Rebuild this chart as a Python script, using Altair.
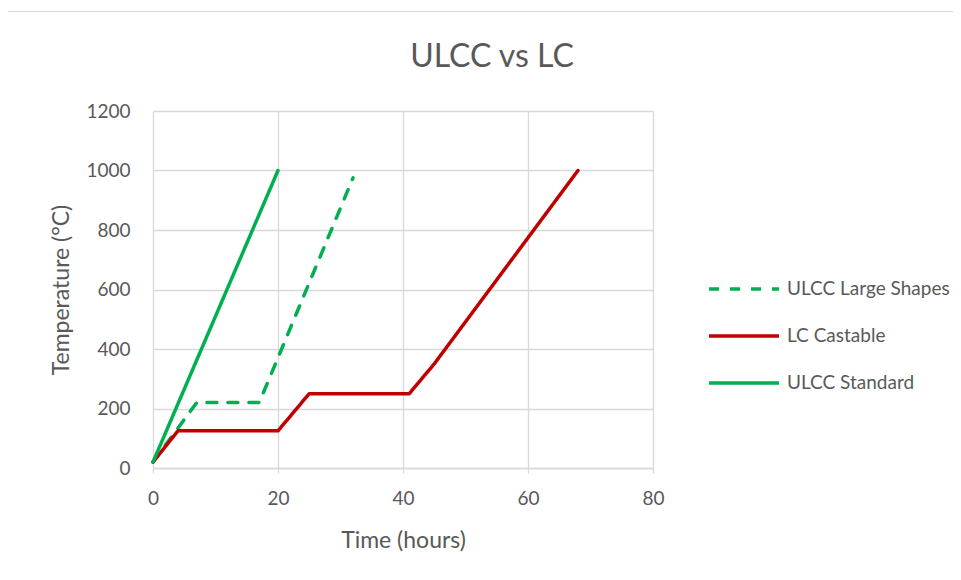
import altair as alt
import pandas as pd

series_names = ["ULCC Large Shapes", "LC Castable", "ULCC Standard"]

large_x = [0, 7, 17, 32]
large_y = [20, 220, 220, 975]

lc_x = [0, 4, 20, 25, 41, 45, 68]
lc_y = [20, 125, 125, 250, 250, 350, 1000]

std_x = [0, 20]
std_y = [20, 1000]

x_ticks = [0, 20, 40, 60, 80]
y_ticks = [0, 200, 400, 600, 800, 1000, 1200]

rows = []
for name, xs, ys in [(series_names[0], large_x, large_y),
                     (series_names[1], lc_x, lc_y),
                     (series_names[2], std_x, std_y)]:
    for i, (x, y) in enumerate(zip(xs, ys)):
        rows.append({"series": name, "time": x, "temp": y, "order": i})
df = pd.DataFrame(rows)

FONT = "Lato"
GREY = "#595959"
GRID = "#D9D9D9"

legend_kw = dict(title=None, orient="none", legendX=554, legendY=141,
                 symbolType="stroke", symbolSize=4900, symbolStrokeWidth=3.5,
                 labelFontSize=19, labelColor=GREY, labelFont=FONT, labelLimit=400,
                 rowPadding=-34, labelOffset=6)

lines = alt.Chart(df).mark_line(strokeWidth=3.5, strokeCap="round", strokeJoin="round").encode(
    x=alt.X("time:Q", scale=alt.Scale(domain=[0, 80], nice=False),
            axis=alt.Axis(values=x_ticks, title="Time (hours)", titlePadding=21,
                          labelPadding=16, labelFlush=False)),
    y=alt.Y("temp:Q", scale=alt.Scale(domain=[0, 1200], nice=False),
            axis=alt.Axis(values=y_ticks, title="Temperature (°C)", format="d",
                          titlePadding=12, ticks=False, domain=False, labelPadding=23)),
    color=alt.Color("series:N",
                    scale=alt.Scale(domain=series_names, range=["#00B050", "#C00000", "#00B050"]),
                    sort=series_names, legend=alt.Legend(**legend_kw)),
    strokeDash=alt.StrokeDash("series:N",
                              scale=alt.Scale(domain=series_names, range=[[10, 11], [1, 0], [1, 0]]),
                              sort=series_names, legend=alt.Legend(**legend_kw)),
    order="order:Q",
    detail="series:N",
)

frame = alt.Chart(pd.DataFrame({"f": [0]})).mark_rect(
    fill=None, stroke=GRID, strokeWidth=1, clip=False
).encode(
    x=alt.value(-148.5), y=alt.value(-99.5), x2=alt.value(1200), y2=alt.value(900)
)

chart = alt.layer(frame, lines).properties(
    width=500,
    height=357,
    title=alt.TitleParams("ULCC vs LC", fontSize=32, font=FONT, color=GREY, fontWeight="normal",
                          anchor="middle", dx=89, offset=-63),
    autosize=alt.AutoSizeParams(type="none"),
    padding={"left": 145, "top": 103, "right": 300, "bottom": 104},
    background="white",
).configure_axis(
    gridColor=GRID, gridWidth=1.3, domainColor=GRID, domainWidth=1.3, tickColor=GRID, tickSize=5,
    tickWidth=1.3,
    labelFont=FONT, labelFontSize=19, labelColor=GREY, titleFont=FONT, titleFontSize=23,
    titleColor=GREY, titleFontWeight="normal",
).configure_view(stroke=None)

chart.save("out.html", embed_options={"renderer": "svg", "actions": False})
